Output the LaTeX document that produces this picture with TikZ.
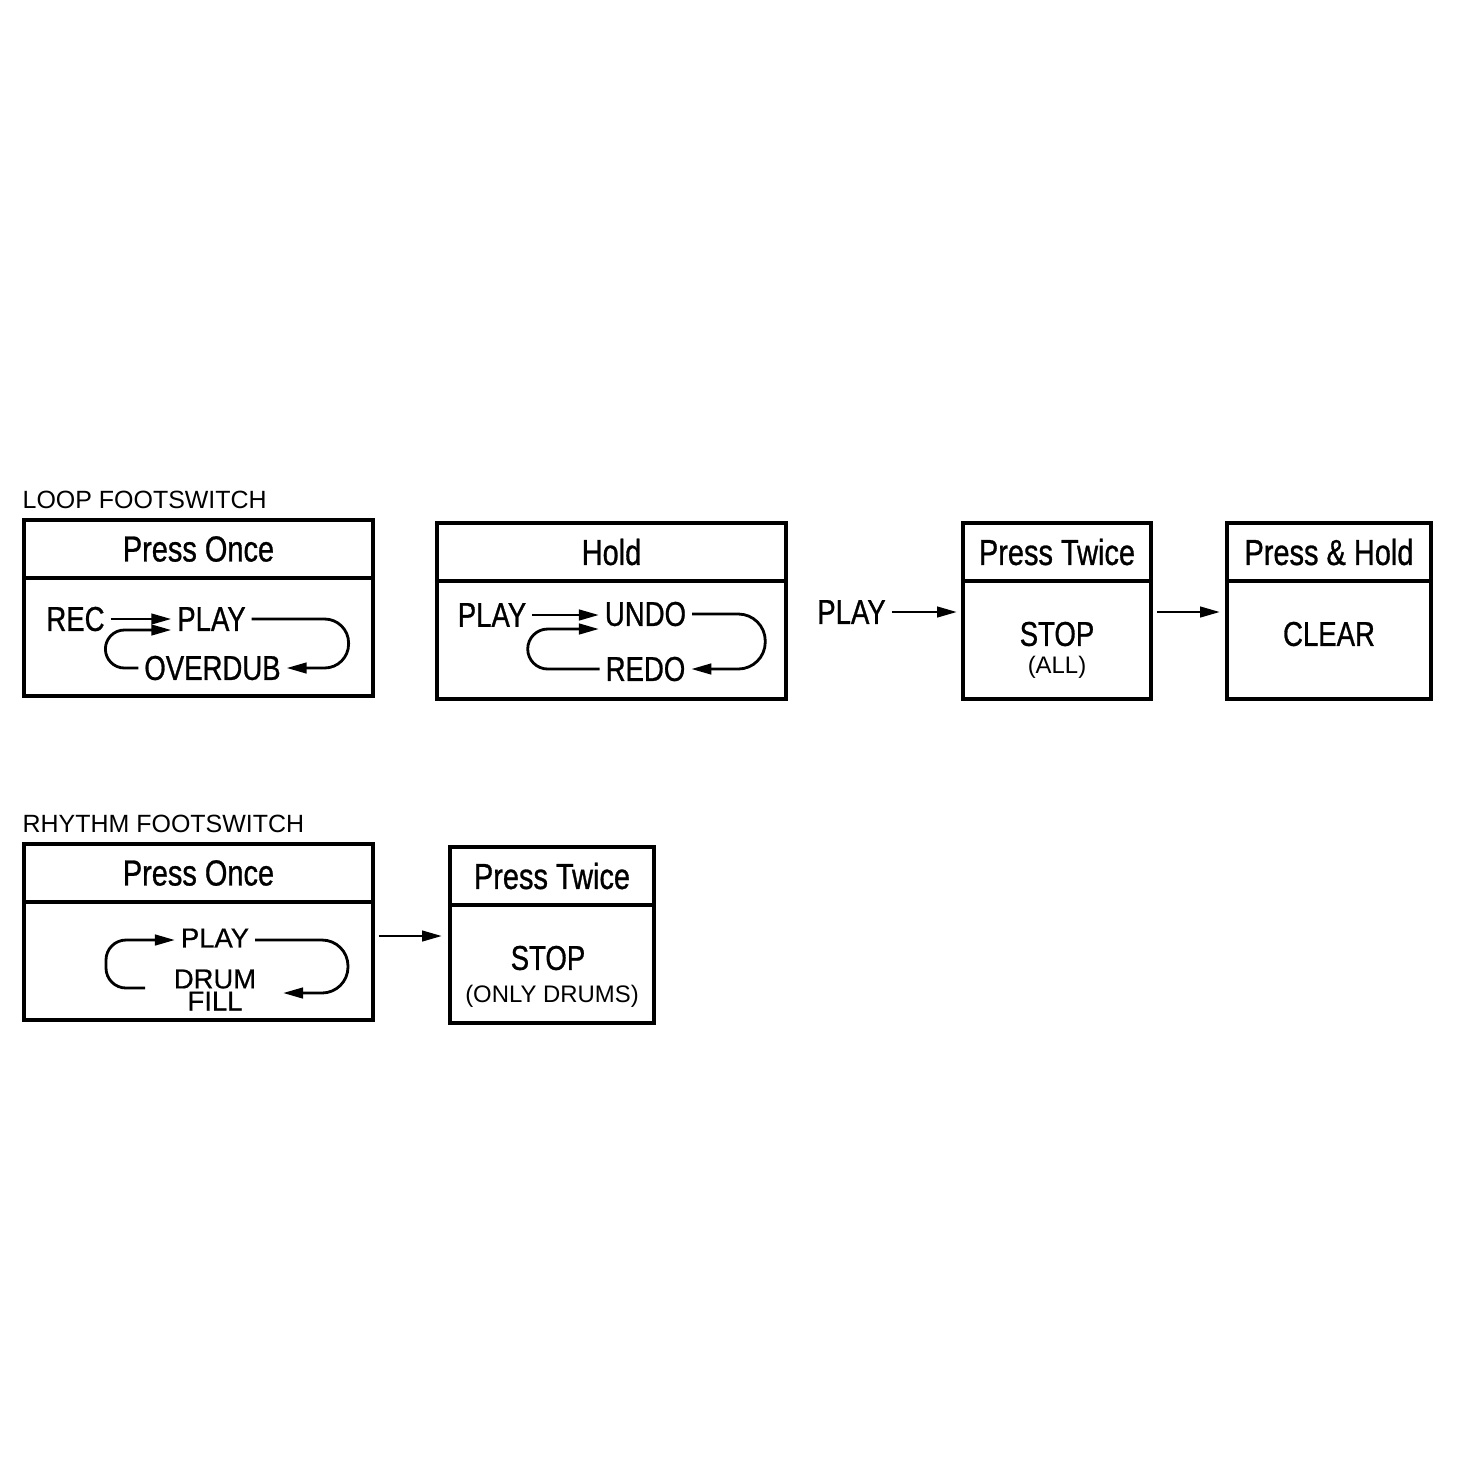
\documentclass[tikz,border=0pt]{standalone}
\usepackage{fontspec}
\setmainfont{Liberation Sans}
\newfontfamily\narrowfont[FakeStretch=0.8,FakeBold=0.8]{Liberation Sans}
\newfontfamily\capsfont[FakeBold=0.6]{Liberation Sans}
\usetikzlibrary{arrows.meta,calc}

\begin{document}
\begin{tikzpicture}[
            x=0.1mm, y=-0.1mm,
            every node/.append style={black},
            hdr/.style={draw, line width=0.9pt, outer sep=0pt, inner sep=0pt,
                minimum height=5.8mm, font=\narrowfont\fontsize{10.3}{11}\selectfont},
            pane/.style={draw, line width=0.9pt, outer sep=0pt, inner sep=0pt,
                minimum height=11.8mm},
            word/.style={inner sep=1.5pt, font=\narrowfont\fontsize{9.8}{11}\selectfont},
            caps/.style={inner sep=1.5pt, font=\capsfont\fontsize{7.8}{6.3}\selectfont, align=center},
            note/.style={inner sep=0pt, font=\fontsize{6.8}{8}\selectfont},
            title/.style={inner sep=0pt, anchor=base west, font=\fontsize{7.1}{8}\selectfont},
            arr/.style={line width=0.8pt, -{Triangle[length=2mm,width=1.05mm]}}
        ]
            \useasboundingbox[fill=white] (0,0) rectangle (1470,1470);

            % loop footswitch
            \node[title] at (22,508) {LOOP FOOTSWITCH};
            \node[hdr, minimum width=34.9mm, anchor=north west] (onceA) at (24,520) {Press Once};
            \node[pane, minimum width=34.9mm, anchor=north] (onceAb) at (onceA.south) {};
            \node[hdr, minimum width=34.9mm, anchor=north west] (hold) at (437,523) {Hold};
            \node[pane, minimum width=34.9mm, anchor=north] (holdb) at (hold.south) {};
            \node[hdr, minimum width=18.8mm, anchor=north west] (twiceA) at (963,523) {Press Twice};
            \node[pane, minimum width=18.8mm, anchor=north] (twiceAb) at (twiceA.south) {};
            \node[hdr, minimum width=20.4mm, anchor=north west] (presshold) at (1227,523) {Press \& Hold};
            \node[pane, minimum width=20.4mm, anchor=north] (pressholdb) at (presshold.south) {};

            \node[word] (rec) at (75.5,619) {REC};
            \node[word] (recplay) at (211.5,619) {PLAY};
            \node[word] (overdub) at (212.5,668) {OVERDUB};
            \draw[arr] (rec.east) -- (rec.east -| recplay.west);
            \draw[arr, rounded corners=1.9mm] (overdub.west) -| ++(-33,-38)
                -- ($(recplay.west)+(0,11)$);
            \draw[arr, rounded corners=2.4mm] (recplay.east) -| ($(overdub.east)+(62,0)$)
                -- (overdub.east);

            \node[word] (holdplay) at (492,615) {PLAY};
            \node[word] (undo) at (645.5,614) {UNDO};
            \node[word] (redo) at (645.5,669) {REDO};
            \draw[arr] (holdplay.east) -- (holdplay.east -| undo.west);
            \draw[arr, rounded corners=2mm] (redo.west) -| ++(-72,-40)
                -- ($(undo.west)+(0,15)$);
            \draw[arr, rounded corners=2.7mm] (undo.east) -| ($(redo.east)+(74,0)$)
                -- (redo.east);

            \node[word] (play) at (851.5,612) {PLAY};
            \draw[arr] (play.east) -- ($(play.east -| twiceAb.west)+(-6,0)$);
            \node[word] (stopall) at (1057,634) {STOP};
            \node[note] (all) at (1057,667) {(ALL)};
            \node[word] (clear) at (1329,634) {CLEAR};
            \draw[arr] ($(twiceAb.east |- play.east)+(6,0)$) coordinate (t)
                -- ($(t -| pressholdb.west)+(-7,0)$);

            % rhythm footswitch
            \node[title] at (22,832) {RHYTHM FOOTSWITCH};
            \node[hdr, minimum width=34.9mm, anchor=north west] (onceB) at (24,844) {Press Once};
            \node[pane, minimum width=34.9mm, anchor=north] (onceBb) at (onceB.south) {};
            \node[hdr, minimum width=20.4mm, anchor=north west] (twiceB) at (450,847) {Press Twice};
            \node[pane, minimum width=20.4mm, anchor=north] (twiceBb) at (twiceB.south) {};

            \node[caps] (drumplay) at (215,938) {PLAY};
            \node[caps] (drumfill) at (215,990) {DRUM\\FILL};
            \coordinate (fillL) at (145,988);
            \coordinate (fillR) at (283,993);
            \draw[arr, rounded corners=2mm] (fillL) -| ++(-39,-48)
                -- ($(drumplay.west)+(0,2)$);
            \draw[arr, rounded corners=2.6mm] ($(drumplay.east)+(0,2)$) -| ($(fillR)+(65,0)$)
                -- (fillR);

            \draw[arr] ($(onceB.south east)+(6,34)$) coordinate (u)
                -- ($(u -| twiceBb.west)+(-8,0)$);
            \node[word] (stopdrums) at (548,958) {STOP};
            \node[note] (drums) at (552,996) {(ONLY DRUMS)};
        \end{tikzpicture}
\end{document}
